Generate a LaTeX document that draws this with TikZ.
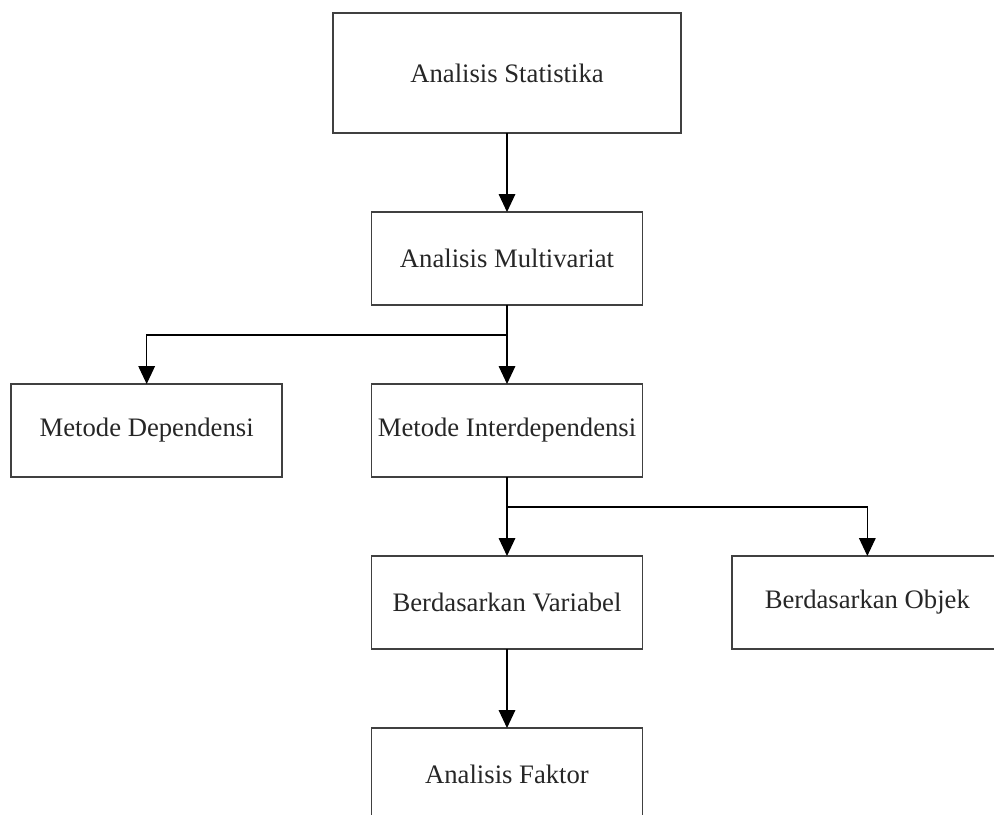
\documentclass[tikz,border=0pt]{standalone}
\usepackage{fontspec}
\setmainfont{Liberation Serif}
\usepackage{tikz}
\usetikzlibrary{positioning}
\usetikzlibrary{arrows.meta}

\begin{document}
\begin{tikzpicture}[node distance=59.25pt and 67pt,
    box/.style={draw=black!75, line width=1.1pt, outer sep=0pt, minimum width=203.25pt, minimum height=69.75pt, font=\fontsize{20pt}{24pt}\selectfont, text=black!85},
    arr/.style={-{Triangle[width=12.5pt,length=13.5pt]}, line width=0.9pt}]

      \useasboundingbox (0,0) rectangle (745.5pt,-610.5pt);

      \node[box, minimum width=261pt, minimum height=90pt] (stat) at (380.25pt,-54.75pt) {Analisis Statistika};

      \node[box, below=of stat] (multi) {Analisis Multivariat};

      \node[box, below=of multi] (inter) {Metode Interdependensi};

      \node[box, left=of inter] (dep) {Metode Dependensi};

      \node[box, below=of inter] (var) {Berdasarkan Variabel};

      \node[box, right=of var] (objek) {Berdasarkan Objek};

      \node[box, below=of var] (faktor) {Analisis Faktor};

      \draw[arr] (stat) -- (multi);
      \draw[arr] (multi) -- (inter);
      \draw[arr] (multi.south) -- ++(0,-22.5pt) -| (dep.north);
      \draw[arr] (inter) -- (var);
      \draw[arr] (inter.south) -- ++(0,-22.5pt) -| (objek.north);
      \draw[arr] (var) -- (faktor);

  \end{tikzpicture}
\end{document}
